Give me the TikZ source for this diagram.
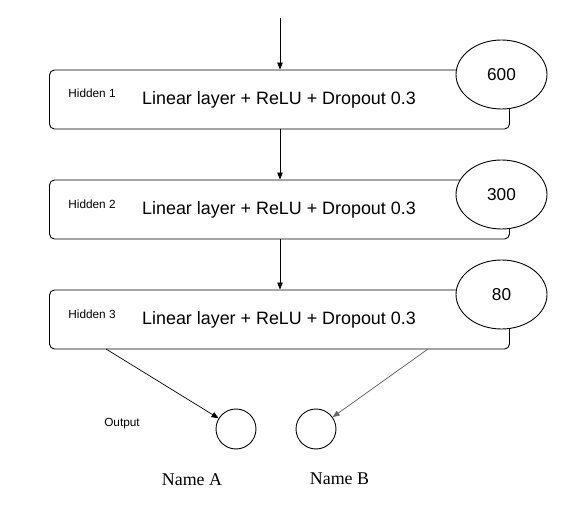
\documentclass[tikz,border=0pt]{standalone}
\usepackage{fontspec}
\setmainfont{Liberation Sans}
\newfontfamily\timesfont{Liberation Serif}
\usetikzlibrary{shapes.geometric,arrows.meta}
\begin{document}
\begin{tikzpicture}[x=1pt,y=-1pt,
  layerbox/.style={draw,rounded corners=5pt,line width=0.9pt,fill=white,minimum width=460pt,minimum height=59pt,inner sep=0pt},
  sizeell/.style={draw,ellipse,line width=0.9pt,fill=white,minimum width=91pt,minimum height=69pt,inner sep=0pt,font=\fontsize{17.2}{19}\selectfont},
  outcirc/.style={draw,circle,line width=0.9pt,minimum size=40pt,inner sep=0pt},
  arr/.style={-{Triangle[length=7pt,width=5.5pt]},line width=0.9pt},
  small/.style={font=\fontsize{11.8}{13}\selectfont},
  main/.style={font=\fontsize{17.9}{20}\selectfont},
  namel/.style={font=\timesfont\fontsize{17.9}{20}\selectfont}]
\useasboundingbox (0,0) rectangle (587,521);
\fill[white] (0,0) rectangle (587,521);
\coordinate (top) at (280,18);
\node[layerbox] (b1) at (279.5,99.5) {};
\node[layerbox] (b2) at (279.5,209.5) {};
\node[layerbox] (b3) at (279.5,319.5) {};
\node[small] (h1) at (92,93) {Hidden 1};
\node[small] (h2) at (92,204) {Hidden 2};
\node[small] (h3) at (92,314) {Hidden 3};
\node[main] (t1) at (279,100) {Linear layer + ReLU + Dropout 0.3};
\node[main] (t2) at (279,210) {Linear layer + ReLU + Dropout 0.3};
\node[main] (t3) at (279,320) {Linear layer + ReLU + Dropout 0.3};
\node[sizeell] (e1) at (501.5,74.5) {600};
\node[sizeell] (e2) at (501.5,194.5) {300};
\node[sizeell] (e3) at (501.5,294.5) {80};
\node[outcirc] (oa) at (236,429) {};
\node[outcirc] (ob) at (316,429) {};
\node[small] (out) at (122,424) {Output};
\node[namel] (na) at (192,480) {Name A};
\node[namel] (nb) at (339.5,479) {Name B};
\coordinate (sa) at (106,349);
\coordinate (sb) at (428,349);
\draw[arr] (top) -- (b1.north -| top);
\draw[arr] (b1.south -| top) -- (b2.north -| top);
\draw[arr] (b2.south -| top) -- (b3.north -| top);
\draw[arr,line width=0.7pt] (sa) -- (oa);
\draw[arr,line width=0.7pt,draw=gray!80!black,fill=gray!80!black] (sb) -- (ob);
\end{tikzpicture}
\end{document}
